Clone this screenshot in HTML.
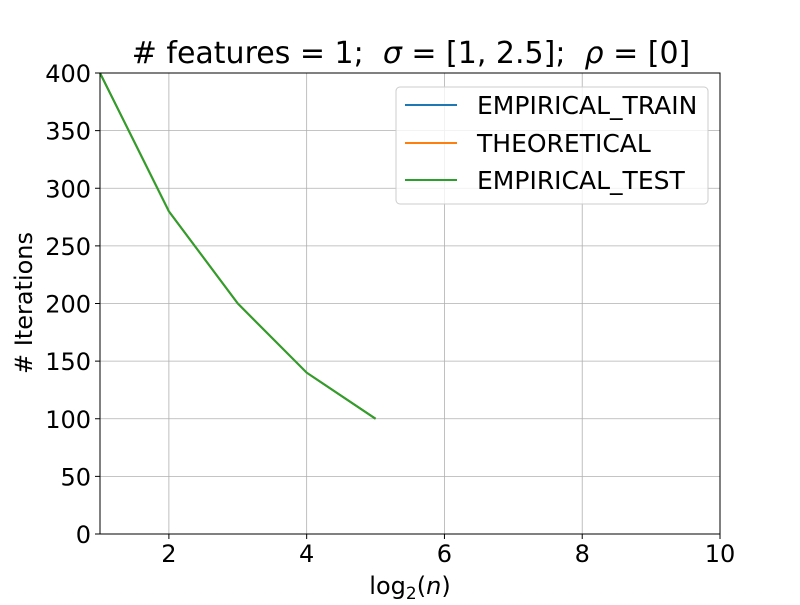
<!DOCTYPE html>
<html><head><meta charset="utf-8"><style>
body{margin:0;background:#fff;}
svg text{font-family:"DejaVu Sans","Liberation Sans",sans-serif;fill:#000;white-space:pre;}
</style></head><body>
<svg id="chart" width="800" height="600" xmlns="http://www.w3.org/2000/svg">
<rect width="800" height="600" fill="#fff"/>
<text x="411" y="63" font-size="30" text-anchor="middle" xml:space="preserve"># features = 1;  <tspan font-style="italic">σ</tspan> = [1, 2.5];  <tspan font-style="italic">ρ</tspan> = [0]</text>
<g id="grid"></g><g id="ticks"></g><g id="series"></g>
<rect x="100" y="73" width="620" height="461" fill="none" stroke="#000" stroke-width="1"/>
<text x="410" y="594" font-size="24" text-anchor="middle">log<tspan font-size="17" dy="5">2</tspan><tspan dy="-5">(</tspan><tspan font-style="italic">n</tspan>)</text>
<text transform="translate(32,303) rotate(-90)" font-size="24" text-anchor="middle"># Iterations</text>
<g>
<rect x="396" y="87" width="312" height="117" rx="4" fill="#fff" fill-opacity="0.8" stroke="#ccc"/>
<g><line x1="405" y1="105" x2="457" y2="105" stroke="#1f77b4" stroke-width="2"/><text x="477" y="114" font-size="25">EMPIRICAL_TRAIN</text></g>
<g><line x1="405" y1="143" x2="457" y2="143" stroke="#ff7f0e" stroke-width="2"/><text x="477" y="152" font-size="25">THEORETICAL</text></g>
<g><line x1="405" y1="180" x2="457" y2="180" stroke="#2ca02c" stroke-width="2"/><text x="477" y="189" font-size="25">EMPIRICAL_TEST</text></g>
</g>
</svg>
<script>
const xValues=[1,2,3,4,5];
const trainValues=[400,280,200,140,100];
const theoreticalValues=[400,280,200,140,100];
const testValues=[400,280,200,140,100];
const xTicks=[2,4,6,8,10];
const yTicks=[0,50,100,150,200,250,300,350,400];
const NS="http://www.w3.org/2000/svg";
const xs=v=>100+(v-1)/9*620;
const ys=v=>534-v/400*461;
const grid=document.getElementById('grid'),ticks=document.getElementById('ticks'),ser=document.getElementById('series');
function mk(t,a,p){const e=document.createElementNS(NS,t);for(const k in a)e.setAttribute(k,a[k]);p.appendChild(e);return e;}
xTicks.forEach(v=>{
 const g=mk('line',{x1:xs(v),x2:xs(v),y1:73,y2:534,stroke:'#b0b0b0','stroke-width':0.8},grid);
 
 
 mk('line',{x1:xs(v),x2:xs(v),y1:534,y2:539,stroke:'#000'},ticks);
 const t=mk('text',{x:xs(v),y:562,'font-size':24,'text-anchor':'middle'},ticks);t.textContent=v;
 
 
});
yTicks.forEach(v=>{
 const g=mk('line',{x1:100,x2:720,y1:ys(v),y2:ys(v),stroke:'#b0b0b0','stroke-width':0.8},grid);
 
 
 mk('line',{x1:95,x2:100,y1:ys(v),y2:ys(v),stroke:'#000'},ticks);
 const t=mk('text',{x:91,y:ys(v)+9,'font-size':24,'text-anchor':'end'},ticks);t.textContent=v;
 
 
});
[[trainValues,'#1f77b4','line-empirical-train'],[theoreticalValues,'#ff7f0e','line-theoretical'],[testValues,'#2ca02c','line-empirical-test']].forEach(([d,c,n])=>{
 const p=mk('polyline',{points:d.map((v,i)=>xs(xValues[i])+','+ys(v)).join(' '),fill:'none',stroke:c,'stroke-width':2},ser);
 
 
});
</script>
</body></html>
